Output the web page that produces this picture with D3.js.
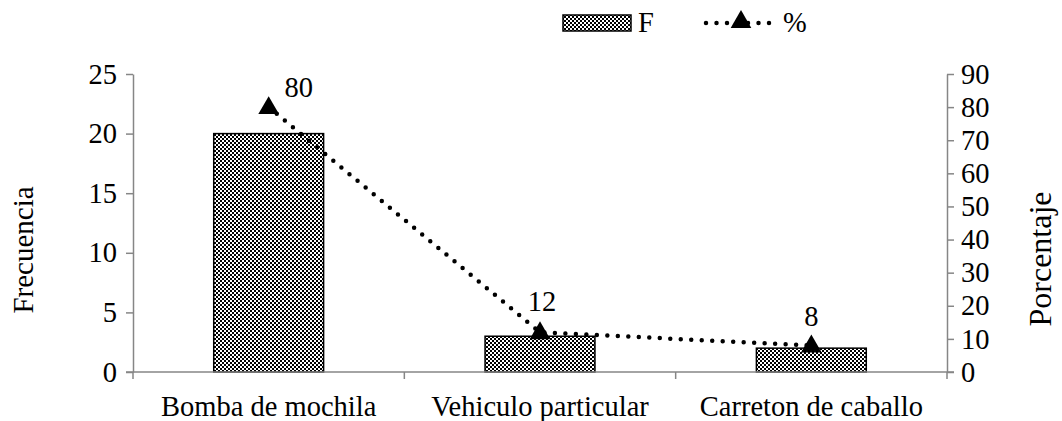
<html>
<head>
<script src="https://d3js.org/d3.v7.min.js"></script>
<style>
  body { margin: 0; background: #fff; }
  text { font-family: "Liberation Serif", "DejaVu Serif", serif; fill: #000; }
</style>
</head>
<body>
<div class="viz"></div>
<script>
var categories = ["Bomba de mochila", "Vehiculo particular", "Carreton de caballo"];
var freq = [20, 3, 2];
var pct = [80, 12, 8];
var leftTicks = [0, 5, 10, 15, 20, 25];
var rightTicks = [0, 10, 20, 30, 40, 50, 60, 70, 80, 90];

var width = 1062, height = 421;
var x0 = 133, x1 = 947, yTop = 74, yBot = 372;
var axisColor = "#868686";
var fs = 28.5;

var svg = d3.select(".viz").append("svg")
    .attr("width", width).attr("height", height);

// checker pattern for bars
var defs = svg.append("defs");
var pat = defs.append("pattern").attr("id", "checker")
    .attr("patternUnits", "userSpaceOnUse").attr("width", 4).attr("height", 4);
pat.append("rect").attr("width", 4).attr("height", 4).attr("fill", "#fff");
pat.append("rect").attr("width", 2).attr("height", 2).attr("fill", "#000");
pat.append("rect").attr("x", 2).attr("y", 2).attr("width", 2).attr("height", 2).attr("fill", "#000");

var xScale = d3.scaleBand().domain(categories).range([x0, x1]).paddingInner(0).paddingOuter(0);
var yLeft = d3.scaleLinear().domain([0, 25]).range([yBot, yTop]);
var yRight = d3.scaleLinear().domain([0, 90]).range([yBot, yTop]);

var barW = xScale.bandwidth() * 0.405;

// bars
svg.selectAll("rect.bar").data(freq).enter().append("rect")
    .attr("class", "bar")
    .attr("x", function(d, i) { return xScale(categories[i]) + xScale.bandwidth() / 2 - barW / 2; })
    .attr("y", function(d) { return yLeft(d); })
    .attr("width", barW)
    .attr("height", function(d) { return yBot - yLeft(d); })
    .attr("fill", "url(#checker)")
    .attr("stroke", "#000").attr("stroke-width", 1.5);

// left axis
var gL = svg.append("g").attr("transform", "translate(" + x0 + ",0)")
    .call(d3.axisLeft(yLeft).tickValues(leftTicks).tickSize(7).tickSizeOuter(0).tickPadding(9));
// right axis
var gR = svg.append("g").attr("transform", "translate(" + x1 + ",0)")
    .call(d3.axisRight(yRight).tickValues(rightTicks).tickSize(7).tickSizeOuter(0).tickPadding(7));
[gL, gR].forEach(function(g) {
    g.attr("font-family", null).attr("font-size", null);
    g.select(".domain").attr("stroke", axisColor).attr("stroke-width", 1.5);
    g.selectAll(".tick line").attr("stroke", axisColor).attr("stroke-width", 1.5);
    g.selectAll(".tick text").style("font-size", fs + "px").attr("fill", "#000");
});

// x axis
svg.append("line").attr("x1", x0 - 7).attr("x2", x1 + 7).attr("y1", yBot).attr("y2", yBot)
    .attr("stroke", axisColor).attr("stroke-width", 1.5);
var bounds = categories.map(function(c) { return xScale(c); }).concat([x1]);
svg.selectAll("line.xtick").data(bounds).enter().append("line")
    .attr("x1", function(d) { return d; }).attr("x2", function(d) { return d; })
    .attr("y1", yBot).attr("y2", yBot + 7)
    .attr("stroke", axisColor).attr("stroke-width", 1.5);
svg.selectAll("text.xlab").data(categories).enter().append("text")
    .attr("x", function(d) { return xScale(d) + xScale.bandwidth() / 2; })
    .attr("y", 416)
    .attr("text-anchor", "middle").style("font-size", fs + "px")
    .text(function(d) { return d; });

// line series
var line = d3.line()
    .x(function(d, i) { return xScale(categories[i]) + xScale.bandwidth() / 2; })
    .y(function(d) { return yRight(d); });
svg.append("path").datum(pct).attr("d", line)
    .attr("fill", "none").attr("stroke", "#000").attr("stroke-width", 4.5)
    .attr("stroke-linecap", "round").attr("stroke-dasharray", "0 10.5");

var tri = d3.symbol().type(d3.symbolTriangle).size(185);
svg.selectAll("path.mk").data(pct).enter().append("path")
    .attr("transform", function(d, i) {
        return "translate(" + (xScale(categories[i]) + xScale.bandwidth() / 2) + "," + (yRight(d) + 1) + ")";
    })
    .attr("d", tri).attr("fill", "#000");

var labelDx = [30, 2, 0];
var labelDy = [10, 21, 20];
svg.selectAll("text.vlab").data(pct).enter().append("text")
    .attr("x", function(d, i) { return xScale(categories[i]) + xScale.bandwidth() / 2 + labelDx[i]; })
    .attr("y", function(d, i) { return yRight(d) - labelDy[i]; })
    .attr("text-anchor", "middle").style("font-size", fs + "px")
    .text(function(d) { return d; });

// axis titles
svg.append("text").attr("transform", "translate(33,250) rotate(-90)")
    .attr("text-anchor", "middle").style("font-size", "29px").text("Frecuencia");
svg.append("text").attr("transform", "translate(1051,259) rotate(-90)")
    .attr("text-anchor", "middle").style("font-size", "32px").text("Porcentaje");

// legend
svg.append("rect").attr("x", 563).attr("y", 15).attr("width", 68).attr("height", 16)
    .attr("fill", "url(#checker)").attr("stroke", "#000").attr("stroke-width", 1.5);
svg.append("text").attr("x", 638).attr("y", 32).style("font-size", fs + "px").text("F");
svg.append("line").attr("x1", 706).attr("x2", 776).attr("y1", 23).attr("y2", 23)
    .attr("stroke", "#000").attr("stroke-width", 4.5)
    .attr("stroke-linecap", "round").attr("stroke-dasharray", "0 10.5");
svg.append("path").attr("transform", "translate(741,22)").attr("d", tri).attr("fill", "#000");
svg.append("text").attr("x", 783).attr("y", 32).style("font-size", fs + "px").text("%");
</script>
</body>
</html>
